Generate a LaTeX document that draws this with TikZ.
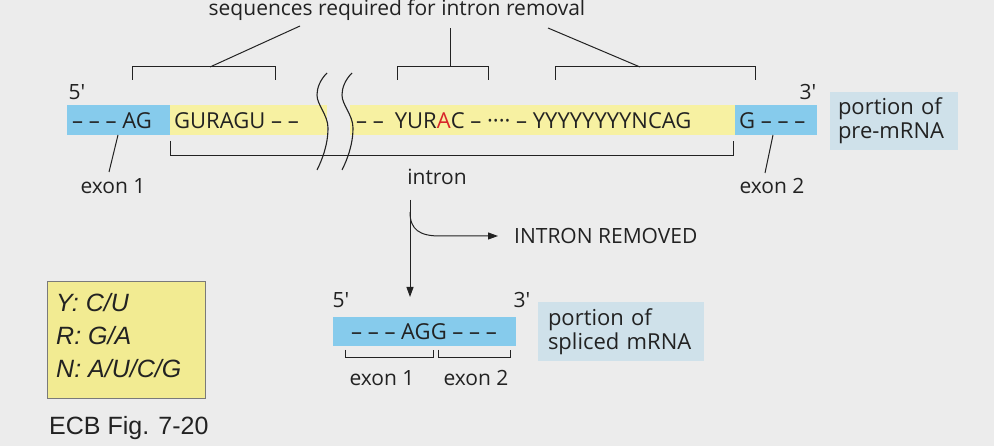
\documentclass[tikz,border=0pt]{standalone}
\usepackage{fontspec}
\setmainfont{Open Sans}
\newfontfamily\arialf{Liberation Sans}
\usetikzlibrary{arrows.meta}
\definecolor{bg}{HTML}{ECECEC}
\definecolor{exonb}{HTML}{86CBEC}
\definecolor{intry}{HTML}{F7F1A2}
\definecolor{lblb}{HTML}{CFE1EA}
\definecolor{legy}{HTML}{F2EB92}
\definecolor{ink}{HTML}{222222}
\definecolor{redA}{HTML}{D8252A}
\begin{document}
\begin{tikzpicture}[x=1pt,y=-1pt,
  seq/.style={font=\fontsize{22}{22}\selectfont,text=ink,inner sep=0pt},
  lbl/.style={font=\fontsize{21}{21}\selectfont,text=ink,inner sep=0pt},
  ln/.style={draw=ink,line width=1pt},
  box/.style={fill=lblb,align=left,font=\fontsize{22}{24}\selectfont,text=ink,inner sep=0pt},
  brk/.style={draw=ink,line width=1.1pt}]
\fill[bg] (0,0) rectangle (994,446);
\useasboundingbox (0,0) rectangle (994,446);
% title
\node[lbl] (title) at (397,10) {sequences required for intron removal};
% brackets above
\draw[ln] (132,80) -- (132,67) -- (275,67) -- (275,80);
\draw[ln] (210,67) -- (300,26);
\draw[ln] (397,80) -- (397,67) -- (488,67) -- (488,80);
\draw[ln] (450,67) -- (450,28);
\draw[ln] (555,80) -- (555,67) -- (755,67) -- (755,80);
\draw[ln] (640,67) -- (548,28);
% bar
\fill[exonb] (67,105) rectangle (170,135);
\fill[intry] (170,105) rectangle (327,135);
\fill[intry] (350,105) rectangle (735,135);
\fill[exonb] (735,105) rectangle (817,135);
\draw[brk] (327,73) .. controls (320,80) and (317,88) .. (317,95) .. controls (317,105) and (328,115) .. (328,128) .. controls (328,145) and (322,160) .. (317,170);
\draw[brk] (352,73) .. controls (345,80) and (342,88) .. (342,95) .. controls (342,105) and (353,115) .. (353,128) .. controls (353,145) and (347,160) .. (342,170);
\node[seq,anchor=west] (e1) at (72,121) {– – – AG};
\node[seq,anchor=west] (s1) at (174,121) {GURAGU – –};
\node[seq,anchor=west] (s2) at (356,121) {– –\enspace YUR\textcolor{redA}{A}C – ···· – YYYYYYYYNCAG};
\node[seq,anchor=west] (e2) at (739,121) {G – – –};
\node[lbl] (p5) at (77,92) {5′};
\node[lbl] (p3) at (808,92) {3′};
\node[box,minimum width=128pt,minimum height=58pt,text width=112pt] (pre) at (894,121) {portion of\\pre-mRNA};
% exon labels
\node[lbl] (x1) at (113,186) {exon 1};
\node[lbl] (x2) at (772,186) {exon 2};
\draw[ln] (118,135) -- (109,172);
\draw[ln] (773,135) -- (765,173);
% intron bracket
\draw[ln] (170,141) -- (170,156) -- (733,156) -- (733,141);
\node[lbl] (intr) at (437,177) {intron};
% arrows
\coordinate (a0) at (410,200);
\node[lbl,anchor=west] (rem) at (514,236) {INTRON REMOVED};
\draw[ln,-{Triangle[length=10pt,width=7pt]}] (a0) -- (410,297);
\draw[ln,-{Triangle[length=10pt,width=7pt]}] (410,212) .. controls (410,230) and (420,236) .. (440,236) -- (498,236);
% spliced
\fill[exonb] (333,317) rectangle (516,346);
\node[seq] (sp) at (424,332) {– – – AGG – – –};
\node[lbl] (q5) at (341,300) {5′};
\node[lbl] (q3) at (522,300) {3′};
\draw[ln] (345,350) -- (345,358) -- (433,358) -- (433,350);
\draw[ln] (438,350) -- (438,358) -- (510,358) -- (510,350);
\node[lbl] (y1) at (382,378) {exon 1};
\node[lbl] (y2) at (476,378) {exon 2};
\node[box,minimum width=166pt,minimum height=59pt,text width=146pt] (spl) at (621,332) {portion of\\spliced mRNA};
% legend
\node[draw=ink!60,fill=legy,minimum width=158pt,minimum height=117pt,inner sep=0pt] (leg) at (126,340) {};
\node[anchor=west,align=left,font=\arialf\itshape\fontsize{25}{33}\selectfont,text=ink,inner sep=0pt] (legt) at (56,336) {Y: C/U\\R: G/A\\N: A/U/C/G};
\node[anchor=west,font=\arialf\fontsize{25}{25}\selectfont,text=ink,inner sep=0pt] (ecb) at (49,428) {ECB Fig. 7-20};
\end{tikzpicture}
\end{document}
